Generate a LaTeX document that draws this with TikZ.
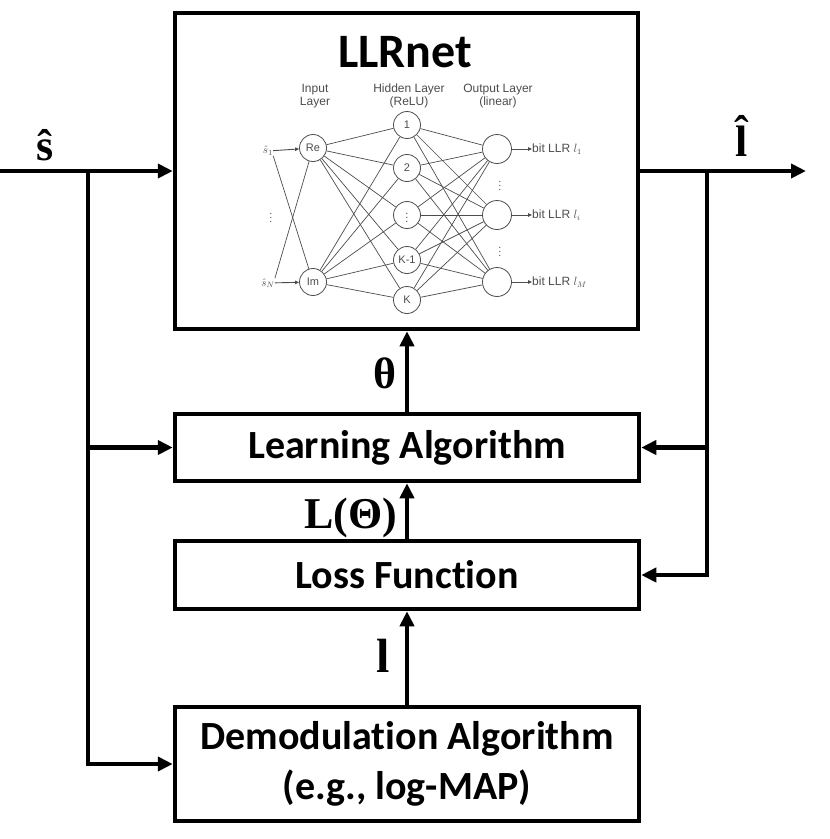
\RequirePackage{fix-cm}
\documentclass[tikz,border=0pt]{standalone}
\usepackage{fontspec}
\usepackage{amsmath}
\setmainfont{Carlito}[Ligatures=NoCommon]
\newfontfamily\labfont{Liberation Serif}
\newfontfamily\netfont{Liberation Sans}
\usetikzlibrary{arrows.meta,calc}
\definecolor{netgray}{gray}{0.3}
\begin{document}
\begin{tikzpicture}[x=1pt,y=-1pt,
  box/.style={draw, line width=4.5pt, inner sep=0pt, minimum width=464pt,
    font=\bfseries\fontsize{40}{50}\selectfont, align=center},
  arr/.style={line width=4.5pt, -{Triangle[length=15pt,width=14pt]}},
  lab/.style={font=\labfont\bfseries\fontsize{44}{50}\selectfont, inner sep=0pt, anchor=base},
  neu/.style={circle, draw=netgray, line width=0.8pt, minimum size=27pt, inner sep=0pt,
    text=netgray, font=\netfont\fontsize{11}{11}\selectfont},
  nline/.style={draw=netgray, line width=0.7pt},
  narr/.style={draw=netgray, line width=0.9pt, -{Triangle[length=4pt,width=3.5pt]}},
  ntext/.style={text=netgray, font=\netfont\fontsize{12}{13}\selectfont, align=center, inner sep=0pt}
]
\useasboundingbox (0,0) rectangle (830,839);

% main boxes
\node[box, minimum width=463pt, minimum height=316pt] (llr) at (406.5,171) {};
\node[box, minimum height=67pt] (learn) at (407,447.5) {Learning Algorithm};
\node[box, minimum height=68pt] (loss) at (407,575) {Loss Function};
\node[box, minimum height=114pt] (demod) at (407,764) {Demodulation Algorithm\\(e.g., log-MAP)};
\node[anchor=base, inner sep=0pt, font=\bfseries\fontsize{48}{50}\selectfont] (title) at (405,67) {LLRnet};

% neural network inset
\node[ntext] (tin) at (315,96) {Input\\Layer};
\node[ntext] (thid) at (409,96) {Hidden Layer\\(ReLU)};
\node[ntext] (tout) at (498,96) {Output Layer\\(linear)};

\node[neu] (re) at (313,148) {Re};
\node[neu] (im) at (313,282) {Im};
\node[neu] (h1) at (407,125) {1};
\node[neu] (h2) at (407,168) {2};
\node[neu] (h3) at (407,215) {$\vdots$};
\node[neu] (h4) at (407,260) {K-1};
\node[neu] (h5) at (407,300) {K};
\node[neu, minimum size=29pt] (o1) at (497,149) {};
\node[neu, minimum size=29pt] (o2) at (497,215) {};
\node[neu, minimum size=29pt] (o3) at (497,282) {};

\foreach \i in {re,im}{\foreach \h in {h1,h2,h3,h4,h5}{\draw[nline] (\i) -- (\h);}}
\foreach \h in {h1,h2,h3,h4,h5}{\foreach \o in {o1,o2,o3}{\draw[nline] (\h) -- (\o);}}

\node[ntext, font=\fontsize{11}{11}\selectfont] (s1) at (268,151) {$\hat{s}_1$};
\node[ntext, font=\fontsize{11}{11}\selectfont] (sN) at (268,283) {$\hat{s}_N$};
\node[ntext, font=\fontsize{10}{10}\selectfont] (din) at (271,215) {$\vdots$};
\draw[narr] (s1) -- (re);
\draw[narr] (sN) -- (im);
\draw[nline] (s1.south east) -- (im);
\draw[nline] (sN.north east) -- (re);

\node[ntext, anchor=west] (l1) at (532,149) {bit LLR $l_1$};
\node[ntext, anchor=west] (li) at (532,215) {bit LLR $l_i$};
\node[ntext, anchor=west] (lM) at (532,282) {bit LLR $l_M$};
\draw[narr] (o1) -- (l1);
\draw[narr] (o2) -- (li);
\draw[narr] (o3) -- (lM);
\node[ntext, font=\fontsize{10}{10}\selectfont] (d1) at (500,183) {$\vdots$};
\node[ntext, font=\fontsize{10}{10}\selectfont] (d2) at (500,249) {$\vdots$};

% connectors
\coordinate (sin) at (0,171);
\coordinate (jl) at (88,171);
\coordinate (jr) at (707,171);
\coordinate (lout) at (806,171);
\draw[arr] (sin) -- (llr.west |- sin);
\draw[arr] (llr.east |- jr) -- (lout);
\draw[arr] (jl) |- (demod.west);
\draw[arr] (jl |- learn.west) -- (learn.west);
\draw[arr] (jr) |- (loss.east);
\draw[arr] (jr |- learn.east) -- (learn.east);
\draw[arr] (learn.north) -- (learn.north |- llr.south);
\draw[arr] (loss.north) -- (learn.south);
\draw[arr] (demod.north) -- (loss.south);

% labels
\node[lab] (shat) at (45,160) {ŝ};
\node[lab] (lhat) at (742,156) {\ooalign{l\cr\hidewidth\raisebox{0.22em}{\char"02C6}\hidewidth\cr}};
\node[lab] (theta) at (385,388) {θ};
\node[lab] (Ltheta) at (351,528) {L(Θ)};
\node[lab, font=\labfont\bfseries\fontsize{48}{50}\selectfont] (lsym) at (383,672) {l};
\end{tikzpicture}
\end{document}
